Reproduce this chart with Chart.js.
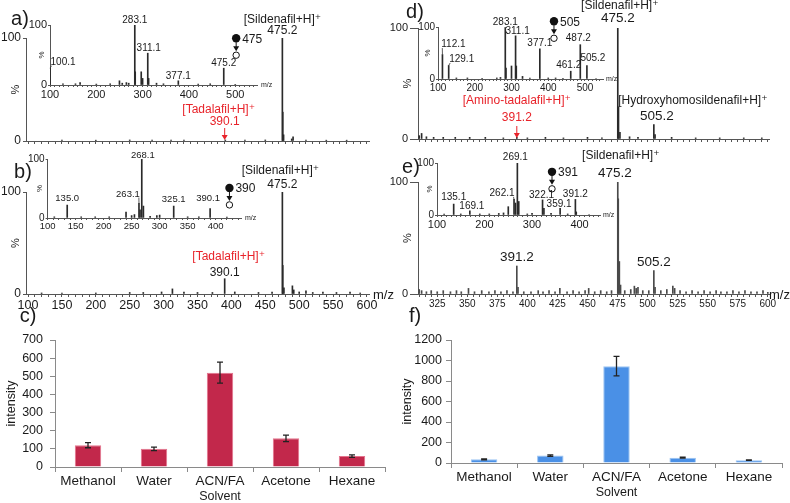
<!DOCTYPE html>
<html>
<head>
<meta charset="utf-8">
<script src="https://cdn.jsdelivr.net/npm/chart.js@4/dist/chart.umd.min.js"></script>
<style>
  body { margin: 0; background: #fff; }
  #wrap { position: relative; width: 790px; height: 503px; overflow: hidden; background: #fff; }
  #wrap canvas { position: absolute; left: 0; top: 0; }
</style>
</head>
<body>
<div id="wrap">
  <canvas id="mainA" width="790" height="503"></canvas>
  <canvas id="mainB" width="790" height="503"></canvas>
  <canvas id="mainD" width="790" height="503"></canvas>
  <canvas id="mainE" width="790" height="503"></canvas>
  <canvas id="insA" width="790" height="503"></canvas>
  <canvas id="insB" width="790" height="503"></canvas>
  <canvas id="insD" width="790" height="503"></canvas>
  <canvas id="insE" width="790" height="503"></canvas>
  <canvas id="barC" width="790" height="503"></canvas>
  <canvas id="barF" width="790" height="503"></canvas>
</div>
<script>
// ---------- data (m/z, relative intensity %) ----------
// a) full scan, extract 1
const mzA  = [150, 200, 250, 283, 311, 330, 391, 420, 450, 475.2, 475.8, 477, 489, 491, 510, 540, 570];
const intA = [0.8, 0.8, 1, 1, 1, 0.8, 1, 0.8, 1, 100, 28, 6, 2, 4, 1, 0.8, 0.8];
// a) inset, MS/MS of 475
const mzA2  = [100.1, 128, 155, 165, 200, 230, 250, 256, 265, 270, 283.1, 284, 297, 300, 311.1, 313, 330, 345, 377.1, 420, 446, 475.2, 500];
const intA2 = [28, 2, 2, 4, 1.5, 2, 7, 3, 4, 3, 100, 22, 22, 11, 53, 11, 3, 2, 7, 1.5, 2, 28, 1];
// b) full scan, extract 2
const mzB  = [120, 150, 200, 250, 270, 297, 313, 330, 350, 372, 390.1, 405, 440, 460, 475.2, 475.8, 477.5, 490, 492, 500, 510, 520, 535, 555, 575, 590];
const intB = [1, 1, 1, 1.5, 1.5, 2, 5, 2, 1.5, 1.5, 15, 2, 1.5, 2, 100, 28, 6, 8, 4, 2, 3, 1.5, 2, 1.5, 2, 1];
// b) inset, MS/MS of 390
const mzB2  = [112, 135.0, 160, 185, 210, 240, 250, 255, 263.1, 265, 268.1, 271, 283, 295, 300, 325.1, 350, 370, 390.1, 420];
const intB2 = [2, 22, 2, 2, 2, 10, 4, 6, 25, 14, 100, 20, 3, 4, 5, 20, 2, 2, 16, 1.5];
// d) full scan, sample 2
const mzD  = [310, 312, 316, 322, 330, 340, 352, 365, 380, 391.2, 400, 415, 430, 450, 462, 475.2, 475.8, 477, 485, 492, 505.2, 506.2, 520, 540, 560, 580, 595];
const intD = [3, 5, 2, 1.5, 1.5, 1.5, 1.5, 1.5, 1, 1.5, 1, 1.5, 1, 1.5, 1, 100, 29, 6, 2, 1.5, 13, 4, 1.5, 1, 1, 1, 1];
// d) inset, MS/MS of 505
const mzD2  = [112.1, 129.1, 150, 180, 220, 260, 270, 283.1, 285, 300, 311.1, 313, 330, 350, 377.1, 400, 420, 440, 461.2, 487.2, 505.2, 530];
const intD2 = [47, 26, 2, 2, 1.5, 2, 3, 99, 21, 25, 83, 25, 5, 2, 58, 2, 2, 1.5, 15, 66, 26, 1];
// e) full scan, sample 3
const mzE  = [310, 312, 316, 320, 325, 330, 336, 341, 345, 351, 356, 362, 368, 373, 378, 383, 388, 391.2, 392.2, 397, 403, 409, 413, 418, 423, 427, 433, 438, 443, 448, 451, 456, 461, 466, 470, 475.2, 475.6, 476.5, 477.5, 481, 486, 489, 490.5, 492, 496, 501, 505.2, 506.2, 511, 516, 521, 522.5, 527, 532, 537, 542, 547, 552, 557, 561, 566, 571, 576, 581, 586, 591, 596, 600];
const intE = [4, 3, 2, 3, 2, 3, 2, 3, 2, 5, 2, 3, 2, 3, 2, 3, 2, 25, 6, 2, 2, 3, 2, 3, 2, 5, 2, 3, 2, 3, 5, 2, 3, 2, 3, 100, 85, 29, 8, 3, 4, 7, 5, 6, 3, 3, 21, 6, 3, 4, 7, 5, 3, 2, 3, 2, 3, 2, 3, 2, 2, 3, 2, 3, 2, 2, 3, 1.5];
// e) inset, MS/MS of 391
const mzE2  = [115, 135.1, 150, 169.1, 190, 210, 230, 240, 250, 262.1, 265, 269.1, 272, 290, 300, 322.1, 325, 340, 359.1, 375, 391.2, 393, 420];
const intE2 = [2, 21, 2, 8, 2, 2, 3, 4, 16, 30, 23, 100, 26, 2, 3, 29, 13, 3, 13, 2, 30, 6, 1];

// c) / f) extraction solvent comparison
const solvents = ['Methanol', 'Water', 'ACN/FA', 'Acetone', 'Hexane'];
const sildenafilInt = [120, 100, 520, 158, 60];
const sildenafilErr = [14, 10, 58, 18, 7];
const tadalafilInt = [36, 72, 945, 52, 28];
const tadalafilErr = [5, 7, 95, 4, 3];

// ---------- helpers ----------
const FONT = "'Liberation Sans', Arial, 'DejaVu Sans', sans-serif";
const TXT = '#1a1a1a';
const AX = '#555';
const RED = '#e8232a';

function T(ctx, s, x, y, size, color, align, rot) {
  ctx.save();
  ctx.font = size + 'px ' + FONT;
  ctx.fillStyle = color || TXT;
  ctx.textAlign = align || 'center';
  ctx.textBaseline = 'middle';
  ctx.translate(x, y);
  if (rot) ctx.rotate(rot);
  ctx.fillText(s, 0, 0);
  ctx.restore();
}
const px = (c, v) => c.scales.x.getPixelForValue(v);
const py = (c, v) => c.scales.y.getPixelForValue(v);

function peakLab(c, mz, text, size, dx = 0, dy = -6, lead = false, color) {
  const p = c.data.datasets[0].data.find(d => d.x === mz);
  const x0 = px(c, mz), y0 = py(c, p.y);
  const x = x0 + dx, y = y0 + dy;
  T(c.ctx, text, x, y, size, color);
  if (lead) {
    const ctx = c.ctx;
    ctx.save();
    ctx.font = size + 'px ' + FONT;
    const w = ctx.measureText(text).width;
    const ex = dx > 0 ? x - w / 2 + 1 : x + w / 2 - 1;
    ctx.strokeStyle = '#333';
    ctx.lineWidth = 0.8;
    ctx.beginPath();
    ctx.moveTo(x0, y0);
    ctx.lineTo(ex, y + size * 0.35);
    ctx.stroke();
    ctx.restore();
  }
}

function arrowDown(ctx, x, y1, y2, color) {
  ctx.save();
  ctx.strokeStyle = color; ctx.fillStyle = color; ctx.lineWidth = 1;
  ctx.beginPath(); ctx.moveTo(x, y1); ctx.lineTo(x, y2 - 4); ctx.stroke();
  ctx.beginPath(); ctx.moveTo(x - 3, y2 - 5); ctx.lineTo(x + 3, y2 - 5); ctx.lineTo(x, y2); ctx.closePath(); ctx.fill();
  ctx.restore();
}

// filled precursor -> open product symbol
function precursor(c, mz, pct, text) {
  const ctx = c.ctx, x = px(c, mz), y = py(c, pct);
  ctx.save();
  ctx.fillStyle = '#111';
  ctx.beginPath(); ctx.arc(x, y, 4.2, 0, Math.PI * 2); ctx.fill();
  arrowDown(ctx, x, y + 4, y + 13, '#111');
  ctx.strokeStyle = '#111'; ctx.lineWidth = 1;
  ctx.beginPath(); ctx.arc(x, y + 17, 3.2, 0, Math.PI * 2); ctx.stroke();
  ctx.restore();
  T(ctx, text, x + 6, y + 1, 12, TXT, 'left');
}

function yTitle(c, text, off, size) {
  const a = c.chartArea;
  T(c.ctx, text, a.left - off, (a.top + a.bottom) / 2, size, TXT, 'center', -Math.PI / 2);
}

function spec(id, area, o) {
  const [l, t, r, b] = area;
  const yw = Math.min(40, l), xh = 22;
  return new Chart(document.getElementById(id), {
    type: 'bar',
    data: { datasets: [{ data: o.mz.map((m, i) => ({ x: m, y: o.h[i] })), backgroundColor: o.color || '#2a2a2a', barThickness: 1 }] },
    options: {
      responsive: false, animation: false, events: [], devicePixelRatio: 1,
      layout: { padding: { left: l - yw, top: t, right: 790 - r, bottom: 503 - b - xh } },
      plugins: { legend: { display: false }, tooltip: { enabled: false } },
      scales: {
        x: {
          type: 'linear', min: o.xmin, max: o.xmax, offset: false,
          grid: { drawOnChartArea: false, offset: false, tickLength: o.xtick || 3, color: AX },
          border: { color: AX },
          ticks: {
            stepSize: o.step, autoSkip: false, includeBounds: false, maxRotation: 0, padding: 1,
            color: TXT, font: { family: FONT, size: o.xfont || 12 },
            callback: v => (o.lab && v % o.lab === 0 && v >= (o.labMin || 0)) ? v : ''
          },
          afterFit: s => { s.height = xh; s.paddingLeft = 0; s.paddingRight = 0; }
        },
        y: {
          min: 0, max: 100,
          grid: { drawOnChartArea: false, tickLength: o.ytick || 3, color: AX },
          border: { color: AX },
          ticks: { stepSize: 100, padding: o.ypad || 2, color: TXT, font: { family: FONT, size: o.yfont || 12 } },
          afterFit: s => { s.width = yw; s.paddingTop = 0; s.paddingBottom = 0; }
        }
      }
    },
    plugins: [{ id: 'deco', afterDraw: c => o.deco(c.ctx, c) }]
  });
}

const errorBars = errs => ({
  id: 'errorBars',
  afterDatasetsDraw(c) {
    const ctx = c.ctx, ys = c.scales.y, vals = c.data.datasets[0].data;
    ctx.save();
    ctx.strokeStyle = '#222'; ctx.lineWidth = 1.3;
    c.getDatasetMeta(0).data.forEach((bar, i) => {
      const x = bar.x, y1 = ys.getPixelForValue(vals[i] + errs[i]), y2 = ys.getPixelForValue(vals[i] - errs[i]);
      ctx.beginPath();
      ctx.moveTo(x, y1); ctx.lineTo(x, y2);
      ctx.moveTo(x - 3, y1); ctx.lineTo(x + 3, y1);
      ctx.moveTo(x - 3, y2); ctx.lineTo(x + 3, y2);
      ctx.stroke();
    });
    ctx.restore();
  }
});

function bars(id, area, vals, errs, o) {
  const [l, t, r, b] = area;
  const yw = 45, xh = 30;
  return new Chart(document.getElementById(id), {
    type: 'bar',
    data: { labels: solvents, datasets: [{ data: vals, backgroundColor: o.fill, borderColor: o.edge, borderWidth: 1, categoryPercentage: 1, barPercentage: 0.4 }] },
    options: {
      responsive: false, animation: false, events: [], devicePixelRatio: 1,
      layout: { padding: { left: l - yw, top: t, right: 790 - r, bottom: 503 - b - xh } },
      plugins: { legend: { display: false }, tooltip: { enabled: false } },
      scales: {
        x: {
          grid: { drawOnChartArea: false, tickLength: 5, color: '#8a8a8a' },
          border: { color: '#8a8a8a' },
          ticks: { color: TXT, padding: 1, font: { family: FONT, size: 13.5 } },
          afterFit: s => { s.height = xh; s.paddingLeft = 0; s.paddingRight = 0; }
        },
        y: {
          min: 0, max: o.max,
          grid: { drawOnChartArea: false, tickLength: 5, color: '#8a8a8a' },
          border: { color: '#8a8a8a' },
          ticks: { stepSize: o.step, padding: o.ypad, color: TXT, font: { family: FONT, size: 12.5 }, callback: v => String(v) },
          afterFit: s => { s.width = yw; s.paddingTop = 0; s.paddingBottom = 0; }
        }
      }
    },
    plugins: [errorBars(errs), { id: 'deco', afterDraw: c => {
      const a = c.chartArea;
      T(c.ctx, o.tag, o.tagX, o.tagY, 20);
      T(c.ctx, 'intensity', a.left - 43, (a.top + a.bottom) / 2, 12.5, TXT, 'center', -Math.PI / 2);
      T(c.ctx, 'Solvent', (a.left + a.right) / 2, a.bottom + 30, 12.5);
    } }]
  });
}

// ---------- a) ----------
spec('mainA', [26, 38, 369, 141], {
  mz: mzA, h: intA, xmin: 97, xmax: 603, step: 10, lab: 0,
  deco: (ctx, c) => {
    T(ctx, 'a)', 20, 19, 20);
    yTitle(c, '%', 10, 11);
    peakLab(c, 475.2, '475.2', 12, 0, -7);
    peakLab(c, 475.2, '[Sildenafil+H]⁺', 12, 0, -18);
    const x = px(c, 390.1), base = c.chartArea.bottom;
    arrowDown(ctx, x, base - 13, base - 1, RED);
    T(ctx, '390.1', x, base - 19, 12, RED);
    T(ctx, '[Tadalafil+H]⁺', x - 6, base - 31, 12, RED);
  }
});
spec('insA', [50, 25, 257, 85], {
  mz: mzA2, h: intA2, xmin: 100, xmax: 547, step: 10, lab: 100, xfont: 11, yfont: 11, xtick: 2, ytick: 2, ypad: 1,
  deco: (ctx, c) => {
    yTitle(c, '%', 8, 8);
    T(ctx, 'm/z', c.chartArea.right + 4, c.chartArea.bottom, 7, TXT, 'left');
    peakLab(c, 100.1, '100.1', 10, 13, -6, true);
    peakLab(c, 283.1, '283.1', 10, 0, -5);
    peakLab(c, 311.1, '311.1', 10, 1, -5);
    peakLab(c, 377.1, '377.1', 10, 0, -5);
    peakLab(c, 475.2, '475.2', 10, 0, -5);
    precursor(c, 502, 78, '475');
  }
});

// ---------- b) ----------
spec('mainB', [26, 192, 369, 294], {
  mz: mzB, h: intB, xmin: 97, xmax: 603, step: 10, lab: 50, xfont: 12.5,
  deco: (ctx, c) => {
    T(ctx, 'b)', 23, 172, 20);
    yTitle(c, '%', 10, 11);
    T(ctx, 'm/z', c.chartArea.right + 4, c.chartArea.bottom + 1, 13, TXT, 'left');
    peakLab(c, 475.2, '475.2', 12, 0, -7);
    peakLab(c, 475.2, '[Sildenafil+H]⁺', 12, -2, -21);
    peakLab(c, 390.1, '390.1', 12, 0, -6);
    peakLab(c, 390.1, '[Tadalafil+H]⁺', 12, 4, -22, false, RED);
  }
});
spec('insB', [47.6, 159, 242, 218], {
  mz: mzB2, h: intB2, xmin: 100, xmax: 447, step: 10, lab: 50, xfont: 9.5, yfont: 10, xtick: 2, ytick: 2, ypad: 1,
  deco: (ctx, c) => {
    yTitle(c, '%', 7.5, 8);
    T(ctx, 'm/z', c.chartArea.right + 3, c.chartArea.bottom, 7, TXT, 'left');
    peakLab(c, 135.0, '135.0', 9.5, 0, -7);
    peakLab(c, 263.1, '263.1', 9.5, -11, -9, true);
    peakLab(c, 268.1, '268.1', 9.5, 1, -4);
    peakLab(c, 325.1, '325.1', 9.5, 0, -7);
    peakLab(c, 390.1, '390.1', 9.5, -2, -10);
    precursor(c, 424.6, 51, '390');
  }
});

// ---------- d) ----------
spec('mainD', [418, 28, 769, 139], {
  mz: mzD, h: intD, xmin: 309, xmax: 601, step: 5, lab: 0, ytick: 8, ypad: 2, yfont: 11,
  deco: (ctx, c) => {
    T(ctx, 'd)', 415, 12, 20);
    yTitle(c, '%', 10, 11);
    peakLab(c, 475.2, '475.2', 13.5, 0, -10);
    peakLab(c, 475.2, '[Sildenafil+H]⁺', 12, 2, -22);
    peakLab(c, 505.2, '505.2', 13.5, 3, -8);
    peakLab(c, 505.2, '[Hydroxyhomosildenafil+H]⁺', 12, 39, -24);
    const x = px(c, 391.2), base = c.chartArea.bottom;
    arrowDown(ctx, x, base - 13, base - 1, RED);
    T(ctx, '391.2', x, base - 21, 12, RED);
    T(ctx, '[Amino-tadalafil+H]⁺', x, base - 38, 12, RED);
  }
});
spec('insD', [438, 27, 603, 79], {
  mz: mzD2, h: intD2, xmin: 100, xmax: 549, step: 10, lab: 100, xfont: 10, yfont: 10, xtick: 2, ytick: 2, ypad: 1,
  deco: (ctx, c) => {
    yTitle(c, '%', 10, 8);
    T(ctx, 'm/z', c.chartArea.right + 3, c.chartArea.bottom, 7, TXT, 'left');
    peakLab(c, 112.1, '112.1', 10, 11, -10, true);
    peakLab(c, 129.1, '129.1', 10, 13, -6, true);
    peakLab(c, 283.1, '283.1', 10, 0, -5);
    peakLab(c, 311.1, '311.1', 10, 2, -5);
    peakLab(c, 377.1, '377.1', 10, 0, -6);
    peakLab(c, 461.2, '461.2', 10, -2, -6);
    peakLab(c, 487.2, '487.2', 10, -2, -6);
    peakLab(c, 505.2, '505.2', 10, 6, -7);
    precursor(c, 415.6, 111, '505');
  }
});

// ---------- e) ----------
spec('mainE', [418, 182, 769, 294], {
  mz: mzE, h: intE, xmin: 309, xmax: 601, step: 5, lab: 25, labMin: 325, xfont: 10, ytick: 8, ypad: 2, yfont: 11, color: '#4a4a4a',
  deco: (ctx, c) => {
    T(ctx, 'e)', 411, 167, 20);
    yTitle(c, '%', 10, 11);
    T(ctx, 'm/z', c.chartArea.right, c.chartArea.bottom + 1, 13, TXT, 'left');
    peakLab(c, 475.2, '475.2', 13.5, -3, -9);
    peakLab(c, 475.2, '[Sildenafil+H]⁺', 12, 3, -26);
    peakLab(c, 391.2, '391.2', 13.5, 0, -9);
    peakLab(c, 505.2, '505.2', 13.5, 0, -8);
  }
});
spec('insE', [437, 163, 600, 215], {
  mz: mzE2, h: intE2, xmin: 100, xmax: 443, step: 10, lab: 100, xfont: 11, yfont: 10, xtick: 2, ytick: 2, ypad: 1,
  deco: (ctx, c) => {
    yTitle(c, '%', 7, 8);
    T(ctx, 'm/z', c.chartArea.right + 3, c.chartArea.bottom, 7, TXT, 'left');
    peakLab(c, 135.1, '135.1', 10, 0, -7);
    peakLab(c, 169.1, '169.1', 10, 2, -5);
    peakLab(c, 262.1, '262.1', 10, -12, -6, true);
    peakLab(c, 269.1, '269.1', 10, -2, -6);
    peakLab(c, 322.1, '322.1', 10, -1, -5);
    peakLab(c, 359.1, '359.1', 10, -1, -4);
    peakLab(c, 391.2, '391.2', 10, 0, -5);
    precursor(c, 342, 83, '391');
  }
});

// ---------- c) / f) ----------
bars('barC', [55, 340, 385, 467], sildenafilInt, sildenafilErr,
  { fill: '#c2284b', edge: '#e4738c', max: 700, step: 100, ypad: 7, tag: 'c)', tagX: 28, tagY: 316 });
bars('barF', [451, 340, 782, 463], tadalafilInt, tadalafilErr,
  { fill: '#4a90e6', edge: '#9cc4f2', max: 1200, step: 200, ypad: 4, tag: 'f)', tagX: 415, tagY: 316 });
</script>
</body>
</html>
